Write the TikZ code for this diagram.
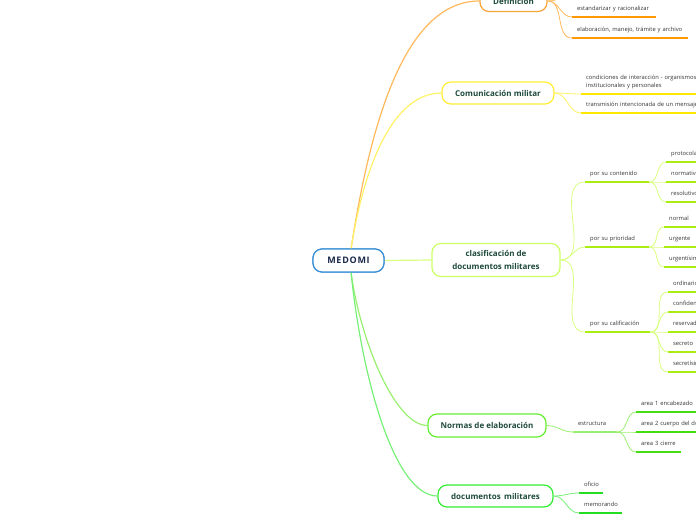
\documentclass[tikz,border=0pt]{standalone}
\usepackage{fontspec}
\setmainfont{Open Sans}
\definecolor{orB}{HTML}{F7A43A}
\definecolor{orL}{HTML}{FFB85C}
\definecolor{orU}{HTML}{FF9900}
\definecolor{yeB}{HTML}{FFEE33}
\definecolor{yeL}{HTML}{FFF266}
\definecolor{yeU}{HTML}{FFE800}
\definecolor{liB}{HTML}{CCFF66}
\definecolor{liL}{HTML}{D8FF80}
\definecolor{liU}{HTML}{AAEE11}
\definecolor{grB}{HTML}{66EE33}
\definecolor{grL}{HTML}{99F070}
\definecolor{grU}{HTML}{44DD11}
\definecolor{gtB}{HTML}{33EE33}
\definecolor{gtL}{HTML}{77F077}
\definecolor{gtU}{HTML}{22DD22}
\definecolor{blB}{HTML}{3A8FD6}
\definecolor{maintext}{HTML}{1E4A3A}
\definecolor{roottext}{HTML}{1A2A4A}
\definecolor{leaftext}{HTML}{333333}
% \leafnode[extra]{name}{ulcolor}{x}{y}{textwidth}{text}
\newcommand\leafnode[7][]{%
  \node[leaf, text width=#6, #1] (#2) at (#4,#5) {#7};
  \draw[ulline=#3] (#2.south west) -- (#2.south east);}
\begin{document}
\begin{tikzpicture}[x=1pt,y=-1pt,
  mainbox/.style={draw=#1, line width=1.2pt, rounded corners=9pt, fill=white, inner sep=0pt,
    font=\bfseries\fontsize{8}{12.5}\selectfont, text=maintext, align=center},
  rootbox/.style={draw=blB, line width=1.2pt, rounded corners=9pt, fill=white, minimum width=71pt, minimum height=23pt,
    inner sep=0pt, font=\bfseries\fontsize{9}{10}\selectfont\addfontfeatures{LetterSpace=8}, text=roottext},
  leafbase/.style={anchor=south west, inner xsep=5pt, inner ysep=4.5pt,
    font=\fontsize{5.8}{8}\selectfont, text=leaftext, align=left},
  leaf/.style={leafbase, text height=4.2pt, text depth=1.5pt},
  ulline/.style={line width=2pt, draw=#1},
  conn/.style={line width=1.2pt, draw=#1},
  sub/.style={line width=0.8pt, draw=#1, out=0, in=180}
]
\useasboundingbox (0,0) rectangle (696,520);
\begin{scope}
\clip (0,0) rectangle (696,520);

% root
\node[rootbox] (root) at (348.5,260.5) {MEDOMI};

% main branches
\node[mainbox=orB, minimum width=67pt, minimum height=21pt] (def) at (513.5,1) {Definición};
\node[mainbox=yeB, minimum width=112pt, minimum height=22pt] (com) at (498,93) {Comunicación militar};
\node[mainbox=liB, minimum width=128pt, minimum height=33pt] (cla) at (496,260) {clasificación de\\documentos militares};
\node[mainbox=grB, minimum width=118pt, minimum height=23pt] (nor) at (487,425.5) {Normas de elaboración};
\node[mainbox=gtB, minimum width=115pt, minimum height=22pt] (doc) at (495.5,496) {documentos\, militares};

% root connectors
\coordinate (rt) at (351,249);
\coordinate (rb) at (351,272);
\draw[conn=orL] (rt) .. controls (368,140) and (400,1) .. (def.west);
\draw[conn=yeL] (rt) .. controls (365,160) and (395,93) .. (com.west);
\draw[conn=liL] (root.east) -- (cla.west);
\draw[conn=grL] (rb) .. controls (360,340) and (395,425.5) .. (nor.west);
\draw[conn=gtL] (rb) .. controls (362,380) and (395,496) .. (doc.west);
% root on top of the connector ends
\node[rootbox] at (348.5,260.5) {MEDOMI};

% Definicion leaves
\leafnode{d1}{orU}{572}{17}{74pt}{estandarizar y racionalizar}
\leafnode{d2}{orU}{572}{38}{106pt}{elaboración, manejo, trámite y archivo}
\coordinate (d0) at (572,-4);
\draw[sub=orL] (def.east) to (d0);
\draw[sub=orL] (def.east) to (d1.south west);
\draw[sub=orL] (def.east) to (d2.south west);

% Comunicacion leaves
\node[leafbase, text width=130pt] (c1) at (581,94) {condiciones de interacción - organismos\\institucionales y personales};
\draw[ulline=yeU] (c1.south west) -- (c1.south east);
\leafnode{c2}{yeU}{581}{113}{130pt}{transmisión intencionada de un mensaje}
\draw[sub=yeL] (com.east) to (c1.south west);
\draw[sub=yeL] (com.east) to (c2.south west);

% clasificacion
\leafnode{k1}{liU}{585}{182}{54pt}{por su contenido}
\leafnode{k2}{liU}{585}{247}{54pt}{por su prioridad}
\leafnode{k3}{liU}{585}{332}{55pt}{por su calificación}
\draw[sub=liL] (cla.east) to (k1.south west);
\draw[sub=liL] (cla.east) to (k2.south west);
\draw[sub=liL] (cla.east) to (k3.south west);

\leafnode{k11}{liU}{666}{162}{60pt}{protocolar}
\leafnode{k12}{liU}{666}{182}{60pt}{normativo}
\leafnode{k13}{liU}{666}{202}{60pt}{resolutivo}
\foreach \n in {k11,k12,k13} \draw[sub=liL] (k1.south east) to (\n.south west);

\leafnode{k21}{liU}{664}{227}{60pt}{normal}
\leafnode{k22}{liU}{664}{247}{60pt}{urgente}
\leafnode{k23}{liU}{664}{267}{60pt}{urgentísimo}
\foreach \n in {k21,k22,k23} \draw[sub=liL] (k2.south east) to (\n.south west);

\leafnode{k31}{liU}{668}{292}{60pt}{ordinario}
\leafnode{k32}{liU}{668}{312}{60pt}{confidencial}
\leafnode{k33}{liU}{668}{332}{60pt}{reservado}
\leafnode{k34}{liU}{668}{352}{60pt}{secreto}
\leafnode{k35}{liU}{668}{372}{60pt}{secretísimo}
\foreach \n in {k31,k32,k33,k34,k35} \draw[sub=liL] (k3.south east) to (\n.south west);

% Normas
\leafnode{n1}{grL}{573}{432}{34pt}{estructura}
\draw[sub=grL] (nor.east) to (n1.south west);
\leafnode{n11}{grU}{636}{412}{100pt}{area 1 encabezado}
\leafnode{n12}{grU}{636}{432}{100pt}{area 2 cuerpo del documento}
\leafnode{n13}{grU}{636}{452}{35pt}{area 3 cierre}
\foreach \n in {n11,n12,n13} \draw[sub=grL] (n1.south east) to (\n.south west);

% documentos
\leafnode{o1}{gtU}{579}{493}{14pt}{oficio}
\leafnode{o2}{gtU}{579}{513}{33pt}{memorando}
\draw[sub=gtL] (doc.east) to (o1.south west);
\draw[sub=gtL] (doc.east) to (o2.south west);
\end{scope}
\end{tikzpicture}
\end{document}
